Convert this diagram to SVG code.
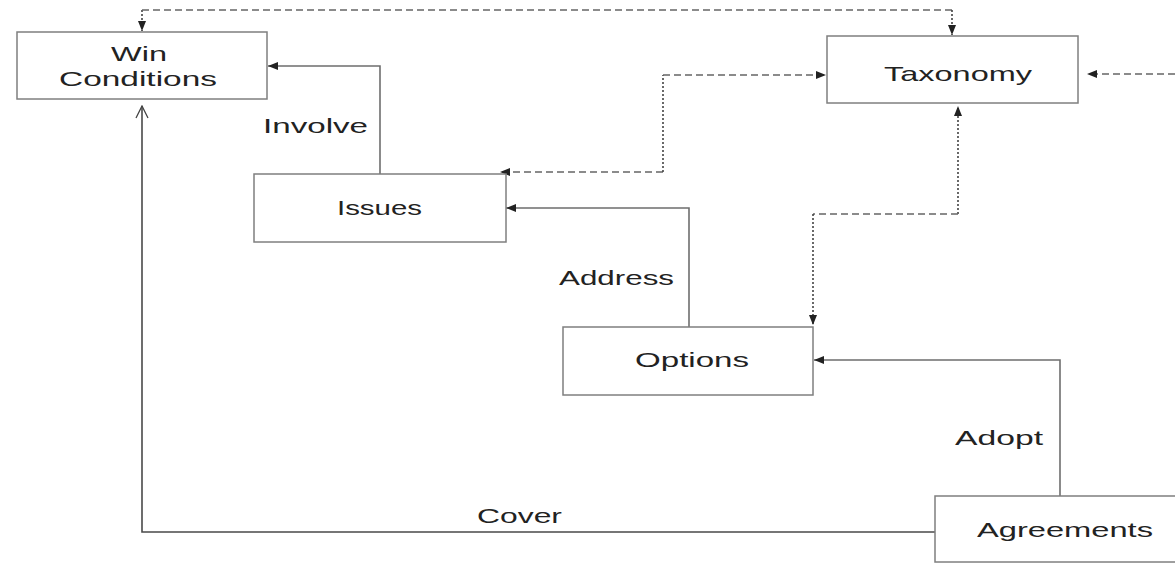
<svg xmlns="http://www.w3.org/2000/svg" width="1175" height="564" viewBox="0 0 1175 564">
<defs>
<marker id="tri" markerUnits="userSpaceOnUse" markerWidth="10" markerHeight="8" viewBox="0 0 10 8" refX="10" refY="4" orient="auto">
<path d="M0,0 L10,4 L0,8 Z" fill="#222"/>
</marker>
<marker id="vee" markerUnits="userSpaceOnUse" markerWidth="14" markerHeight="14" viewBox="0 0 14 14" refX="13" refY="7" orient="auto">
<path d="M1,1 L13,7 L1,13" fill="none" stroke="#444" stroke-width="1.3"/>
</marker>
<style>
.box{fill:#fff;stroke:#7f7f7f;stroke-width:1.5}
.lbl{font-family:"Liberation Sans",Arial,sans-serif;font-size:21px;fill:#222}
.solid{fill:none;stroke:#6e6e6e;stroke-width:1.6}
.cover{fill:none;stroke:#4a4a4a;stroke-width:1.6}
.dash{fill:none;stroke:#666;stroke-width:1.4;stroke-dasharray:7,4}
.dot{fill:none;stroke:#444;stroke-width:1.6;stroke-dasharray:2,2}
</style>
</defs>
<rect width="1175" height="564" fill="#fff"/>
<g id="connectors">
<path class="dot" d="M142,10 V31" marker-end="url(#tri)"/>
<path class="dash" d="M142,10 H952"/>
<path class="dot" d="M952,10 V35" marker-end="url(#tri)"/>
<path class="dash" d="M663,172 H500" marker-end="url(#tri)"/>
<path class="dot" d="M663,172 V75"/>
<path class="dash" d="M663,75 H826" marker-end="url(#tri)"/>
<path class="dot" d="M958,214 V106" marker-end="url(#tri)"/>
<path class="dash" d="M958,214 H813"/>
<path class="dot" d="M813,214 V325" marker-end="url(#tri)"/>
<path class="dash" d="M1175,74 H1087" marker-end="url(#tri)"/>
<path class="solid" d="M380,174 V66 H268" marker-end="url(#tri)"/>
<path class="solid" d="M689,327 V208 H506" marker-end="url(#tri)"/>
<path class="solid" d="M1060,496 V360 H814" marker-end="url(#tri)"/>
<path class="cover" d="M935,532 H142 V106" marker-end="url(#vee)"/>
<text class="lbl" x="263" y="133" textLength="105" lengthAdjust="spacingAndGlyphs">Involve</text>
<text class="lbl" x="559" y="285" textLength="115" lengthAdjust="spacingAndGlyphs">Address</text>
<text class="lbl" x="955" y="445" textLength="88" lengthAdjust="spacingAndGlyphs">Adopt</text>
<text class="lbl" x="477" y="523" textLength="85" lengthAdjust="spacingAndGlyphs">Cover</text>
</g>
<g id="win-conditions">
<rect class="box" x="17" y="32" width="250" height="67"/>
<text class="lbl" x="111" y="61" textLength="56" lengthAdjust="spacingAndGlyphs">Win</text>
<text class="lbl" x="59" y="86" textLength="158" lengthAdjust="spacingAndGlyphs">Conditions</text>
</g>
<g id="taxonomy">
<rect class="box" x="827" y="36" width="251" height="67"/>
<text class="lbl" x="884" y="81" textLength="148" lengthAdjust="spacingAndGlyphs">Taxonomy</text>
</g>
<g id="issues">
<rect class="box" x="254" y="174" width="252" height="68"/>
<text class="lbl" x="337" y="215" textLength="85" lengthAdjust="spacingAndGlyphs">Issues</text>
</g>
<g id="options">
<rect class="box" x="563" y="327" width="250" height="68"/>
<text class="lbl" x="635" y="367" textLength="114" lengthAdjust="spacingAndGlyphs">Options</text>
</g>
<g id="agreements">
<rect class="box" x="935" y="496" width="260" height="66"/>
<text class="lbl" x="977" y="537" textLength="176" lengthAdjust="spacingAndGlyphs">Agreements</text>
</g>
</svg>
